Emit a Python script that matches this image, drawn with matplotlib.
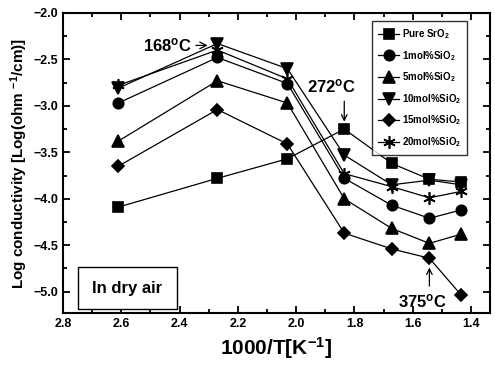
import matplotlib
matplotlib.use("Agg")
import matplotlib.pyplot as plt
from matplotlib.ticker import MultipleLocator
from matplotlib.patches import Rectangle

plt.rcParams['font.family'] = ['Liberation Sans', 'DejaVu Sans']
plt.rcParams['font.weight'] = 'bold'
plt.rcParams['mathtext.fontset'] = 'custom'
plt.rcParams['mathtext.rm'] = 'Liberation Sans:bold'
plt.rcParams['mathtext.default'] = 'rm'

x = [2.61, 2.27, 2.03, 1.835, 1.672, 1.543, 1.433]
pure = [-4.09, -3.78, -3.57, -3.25, -3.62, -3.79, -3.82]
mol1 = [-2.97, -2.48, -2.76, -3.78, -4.07, -4.21, -4.12]
mol5 = [-3.38, -2.73, -2.97, -4.00, -4.32, -4.48, -4.38]
mol10 = [-2.81, -2.33, -2.60, -3.53, -3.85, -3.80, -3.85]
mol15 = [-3.65, -3.04, -3.41, -4.37, -4.54, -4.64, -5.04]
mol20 = [-2.78, -2.40, -2.71, -3.73, -3.87, -3.99, -3.92]

labels = ['Pure SrO$_2$', '1mol%SiO$_2$', '5mol%SiO$_2$', '10mol%SiO$_2$',
          '15mol%SiO$_2$', '20mol%SiO$_2$']
markers = ['s', 'o', '^', 'v', 'D', (6, 2, 0)]
sizes = [7, 7.5, 8, 8, 6.5, 9]
series = [pure, mol1, mol5, mol10, mol15, mol20]

fig = plt.figure(figsize=(4.95, 3.79), dpi=100)
ax = fig.add_axes([0.127, 0.174, 0.863, 0.792])

for ys, m, lab, s in zip(series, markers, labels, sizes):
    ax.plot(x, ys, color='black', lw=0.9, marker=m, ms=s, mfc='black',
            mec='black', mew=1.2, label=lab)

ax.set_xlim(2.8, 1.335)
ax.set_ylim(-5.23, -2.0)
ax.xaxis.set_major_locator(MultipleLocator(0.2))
ax.xaxis.set_minor_locator(MultipleLocator(0.1))
ax.yaxis.set_major_locator(MultipleLocator(0.5))
ax.yaxis.set_minor_locator(MultipleLocator(0.25))
ax.tick_params(which='both', direction='in', top=True, right=True,
               labelsize=9, width=1.3)
ax.tick_params(which='major', length=5)
ax.tick_params(which='minor', length=3)
ax.set_xticklabels([f'{v:.1f}' for v in ax.get_xticks()])
for sp in ax.spines.values():
    sp.set_linewidth(1.5)

ax.set_xlabel('1000/T[K$^{-1}$]', fontsize=15, fontweight='bold', labelpad=4)
ax.set_ylabel('Log conductivity [Log(ohm $^{-1}$/cm)]', fontsize=11,
              fontweight='bold', labelpad=2)

leg = ax.legend(loc='upper right', bbox_to_anchor=(0.958, 0.988), fontsize=7,
                frameon=True, fancybox=False, edgecolor='black',
                handlelength=2.2, labelspacing=0.8, borderpad=0.6,
                handletextpad=0.3)
leg.get_frame().set_linewidth(1.0)

ax.annotate('168$^{o}$C', xy=(2.303, -2.35), xytext=(2.358, -2.35),
            fontsize=12, fontweight='bold', ha='right', va='center',
            arrowprops=dict(arrowstyle='->', color='black', lw=0.9,
                            shrinkA=1, shrinkB=0))
ax.text(1.88, -2.79, '272$^{o}$C', fontsize=12, fontweight='bold',
        ha='center', va='center')
ax.annotate('', xy=(1.835, -3.17), xytext=(1.835, -2.95),
            arrowprops=dict(arrowstyle='->', color='black', lw=0.9,
                            shrinkA=0, shrinkB=0))
ax.text(1.566, -5.10, '375$^{o}$C', fontsize=12, fontweight='bold',
        ha='center', va='center')
ax.annotate('', xy=(1.543, -4.74), xytext=(1.543, -4.94),
            arrowprops=dict(arrowstyle='->', color='black', lw=0.9,
                            shrinkA=0, shrinkB=0))

ax.add_patch(Rectangle((0.035, 0.012), 0.232, 0.143, transform=ax.transAxes,
                       fc='white', ec='black', lw=1.0, zorder=3))
ax.text(0.151, 0.083, 'In dry air', transform=ax.transAxes, fontsize=12,
        fontweight='bold', ha='center', va='center', zorder=4)

fig.savefig('out.png', dpi=100)
